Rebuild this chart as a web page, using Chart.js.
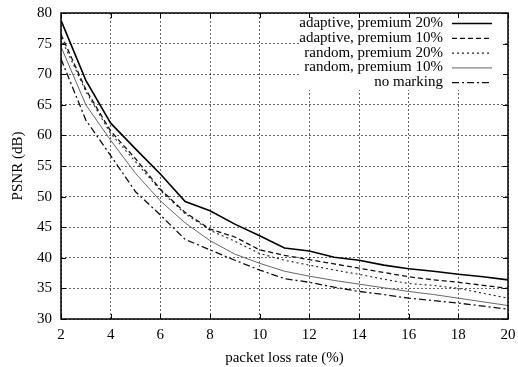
<!DOCTYPE html>
<html>
<head>
<meta charset="utf-8">
<script src="https://cdn.jsdelivr.net/npm/chart.js@4/dist/chart.umd.min.js"></script>
<style>
  html, body { margin: 0; padding: 0; background: #fff; }
  #wrap { width: 518px; height: 367px; }
</style>
</head>
<body>
<div id="wrap"><canvas id="c" width="518" height="367"></canvas></div>
<script>
const lossRates = [2, 3, 4, 5, 6, 7, 8, 9, 10, 11, 12, 13, 14, 15, 16, 17, 18, 19, 20];
const adaptive20 = [78.8, 69.0, 62.0, 57.8, 53.7, 49.2, 47.7, 45.5, 43.6, 41.6, 41.1, 40.1, 39.6, 38.8, 38.2, 37.8, 37.3, 36.9, 36.4];
const adaptive10 = [76.5, 67.5, 60.7, 56.2, 51.2, 47.4, 44.7, 43.4, 41.3, 40.4, 39.7, 39.0, 38.3, 37.6, 36.9, 36.4, 36.0, 35.5, 35.0];
const random20   = [75.9, 67.2, 60.3, 55.7, 51.0, 47.2, 44.5, 42.7, 40.7, 39.6, 38.8, 38.0, 37.3, 36.5, 35.8, 35.5, 35.0, 34.2, 33.4];
const random10   = [74.5, 65.0, 59.2, 53.8, 49.3, 45.7, 42.8, 40.6, 39.1, 37.8, 37.0, 36.3, 35.7, 35.1, 34.5, 34.0, 33.4, 32.8, 32.2];
const noMarking  = [72.5, 62.5, 56.7, 50.8, 47.0, 43.0, 41.3, 39.6, 38.0, 36.6, 36.0, 35.2, 34.5, 34.0, 33.4, 33.0, 32.6, 32.1, 31.6];
const seriesLabels = ['adaptive, premium 20%', 'adaptive, premium 10%', 'random, premium 20%', 'random, premium 10%', 'no marking'];
const xTicks = [2, 4, 6, 8, 10, 12, 14, 16, 18, 20];
const yTicks = [30, 35, 40, 45, 50, 55, 60, 65, 70, 75, 80];

const FONT = '"Liberation Serif", "Times New Roman", serif';
const seriesValues = [adaptive20, adaptive10, random20, random10, noMarking];
const styles = [
  { color: '#000', width: 1.6, dash: [] },
  { color: '#111', width: 1.3, dash: [5, 3] },
  { color: '#222', width: 1.1, dash: [2, 3] },
  { color: '#666', width: 1.0, dash: [] },
  { color: '#111', width: 1.3, dash: [7, 3, 2, 3] }
];

const datasets = seriesValues.map((vals, i) => ({
  label: seriesLabels[i],
  data: lossRates.map((x, j) => ({ x: x, y: vals[j] })),
  borderColor: styles[i].color,
  borderWidth: styles[i].width,
  borderDash: styles[i].dash,
  pointRadius: 0,
  tension: 0,
  fill: false
}));

const framePlugin = {
  id: 'frame',
  afterDraw(chart) {
    const ctx = chart.ctx;
    const a = chart.chartArea;
    const xs = chart.scales.x, ys = chart.scales.y;
    ctx.save();
    // legend box (covers grid)
    const lx1 = a.right - 209, lx2 = a.right - 5, ly1 = a.top + 1, ly2 = a.top + 77;
    ctx.fillStyle = '#fff';
    ctx.fillRect(lx1, ly1, lx2 - lx1, ly2 - ly1);
    // frame
    ctx.strokeStyle = '#000';
    ctx.lineWidth = 1.5;
    ctx.setLineDash([]);
    ctx.strokeRect(a.left, a.top, a.right - a.left, a.bottom - a.top);
    // inward ticks
    ctx.lineWidth = 1;
    const tl = 5;
    xTicks.forEach(v => {
      const px = Math.round(xs.getPixelForValue(v)) + 0.5;
      ctx.beginPath();
      ctx.moveTo(px, a.bottom); ctx.lineTo(px, a.bottom - tl);
      ctx.moveTo(px, a.top); ctx.lineTo(px, a.top + tl);
      ctx.stroke();
    });
    yTicks.forEach(v => {
      const py = Math.round(ys.getPixelForValue(v)) + 0.5;
      ctx.beginPath();
      ctx.moveTo(a.left, py); ctx.lineTo(a.left + tl, py);
      ctx.moveTo(a.right, py); ctx.lineTo(a.right - tl, py);
      ctx.stroke();
    });
    // legend entries
    ctx.font = '15px ' + FONT;
    ctx.textAlign = 'right';
    ctx.textBaseline = 'middle';
    ctx.fillStyle = '#000';
    chart.data.datasets.forEach((ds, i) => {
      const y = a.top + 10 + i * 14.8;
      ctx.fillText(ds.label, a.right - 65, y);
      ctx.beginPath();
      ctx.strokeStyle = ds.borderColor;
      ctx.lineWidth = ds.borderWidth;
      ctx.setLineDash(ds.borderDash);
      ctx.moveTo(a.right - 56, y + 0.5);
      ctx.lineTo(a.right - 16, y + 0.5);
      ctx.stroke();
    });
    ctx.restore();
  }
};

new Chart(document.getElementById('c'), {
  type: 'line',
  data: { datasets: datasets },
  options: {
    responsive: false,
    animation: false,
    devicePixelRatio: 1,
    layout: { padding: { left: 9, right: 10, top: 13, bottom: 0 } },
    plugins: {
      legend: { display: false },
      tooltip: { enabled: false }
    },
    scales: {
      x: {
        type: 'linear',
        min: 2, max: 20,
        afterBuildTicks(scale) { scale.ticks = xTicks.map(v => ({ value: v })); },
        afterFit(scale) { scale.height = 48; scale.paddingLeft = 0; scale.paddingRight = 0; },
        border: { display: false, dash: [2, 2] },
        grid: { color: 'rgba(0,0,0,0.6)', lineWidth: 1, drawTicks: false },
        ticks: { color: '#000', font: { family: FONT, size: 15 }, padding: 7, maxRotation: 0, autoSkip: false },
        title: { display: true, text: 'packet loss rate (%)', color: '#000', font: { family: FONT, size: 15 }, padding: { top: 3, bottom: 0 } }
      },
      y: {
        type: 'linear',
        min: 30, max: 80,
        afterBuildTicks(scale) { scale.ticks = yTicks.map(v => ({ value: v })); },
        afterFit(scale) { scale.width = 52; scale.paddingTop = 0; scale.paddingBottom = 0; },
        border: { display: false, dash: [2, 2] },
        grid: { color: 'rgba(0,0,0,0.6)', lineWidth: 1, drawTicks: false },
        ticks: { color: '#000', font: { family: FONT, size: 15 }, padding: 9, autoSkip: false },
        title: { display: true, text: 'PSNR (dB)', color: '#000', font: { family: FONT, size: 15 }, padding: { top: 0, bottom: 6 } }
      }
    }
  },
  plugins: [framePlugin]
});
</script>
</body>
</html>
